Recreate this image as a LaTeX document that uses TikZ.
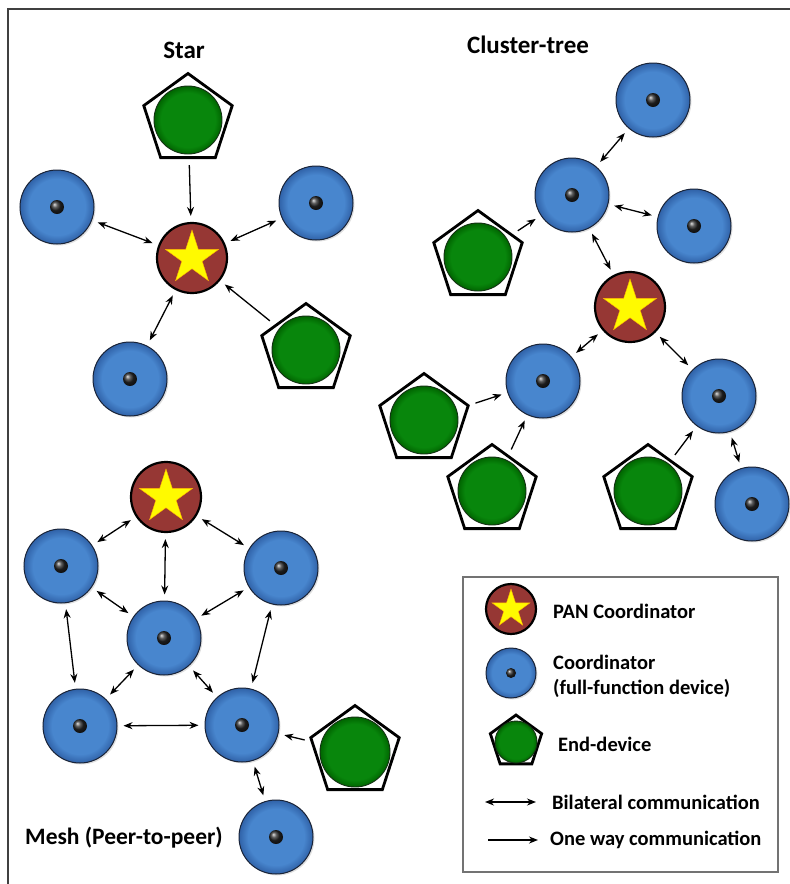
\documentclass[tikz,border=0pt]{standalone}
\usepackage{fontspec}
\setmainfont{Carlito}
\usetikzlibrary{shapes.geometric,arrows.meta,shadows}
\definecolor{cblue}{RGB}{72,134,206}
\definecolor{cbluerim}{RGB}{48,98,168}
\definecolor{cedge}{RGB}{25,35,55}
\definecolor{cgreen}{RGB}{8,134,12}
\definecolor{cgreenrim}{RGB}{0,100,0}
\definecolor{gedge}{RGB}{20,50,20}
\definecolor{cpan}{RGB}{150,55,52}
\definecolor{cstar}{RGB}{255,250,0}
\pgfdeclareradialshading{bluesh}{\pgfpoint{0bp}{0bp}}{color(0bp)=(cblue); color(19bp)=(cblue); color(25bp)=(cbluerim); color(50bp)=(cbluerim)}
\pgfdeclareradialshading{greensh}{\pgfpoint{0bp}{0bp}}{color(0bp)=(cgreen); color(20bp)=(cgreen); color(25bp)=(cgreenrim); color(50bp)=(cgreenrim)}
\tikzset{
  coord/.style={circle, inner sep=0pt, draw=cedge, line width=1pt, shading=bluesh,
    drop shadow={shadow xshift=1.5pt, shadow yshift=-1.5pt, opacity=0.25}},
  pan/.style={circle, inner sep=0pt, draw=black, line width=2.2pt, fill=cpan},
  panstar/.style={star, star points=5, star point ratio=2.618, inner sep=0pt, fill=cstar, draw=orange!60!yellow, line width=0.4pt},
  enddev/.style={regular polygon, regular polygon sides=5, inner sep=0pt, draw=black, line width=2.8pt, fill=white},
  bi/.style={{Stealth[length=9pt,width=7pt]}-{Stealth[length=9pt,width=7pt]}, line width=1.3pt, shorten <=6pt, shorten >=6pt},
  one/.style={-{Stealth[length=9pt,width=7pt]}, line width=1.3pt, shorten <=6pt, shorten >=6pt},
  title/.style={font=\fontsize{25}{29}\selectfont\bfseries, inner sep=0pt},
  legtext/.style={font=\fontsize{20.5}{24}\selectfont\bfseries, inner sep=0pt, anchor=west, align=left},
}
\newcommand\PANnode[4]{%
  \node[pan, minimum size=#3] (#1) at (#2) {};
  \node[panstar, minimum size=#4] (#1s) at (#1.center) {};}
\newcommand\COnode[4]{%
  \node[coord, minimum size=#3] (#1) at (#2) {};
  \shade[ball color=black!85] (#1.center) circle (#4);}
\newcommand\EDnode[4]{%
  \node[enddev, minimum size=#3] (#1) at (#2) {};
  \shadedraw[shading=greensh, draw=gedge, line width=0.9pt] (#1.center) circle (#4);}
\begin{document}
\begin{tikzpicture}[x=1pt,y=-1pt]
\useasboundingbox (0,0) rectangle (790,884);
% outer frame
\draw[line width=2pt, black!75] (8,884) -- (8,9) -- (790,9);

% ---------- Star ----------
\node[title] (tstar) at (184,50) {Star};
\EDnode{stop}{188,120}{93pt}{34pt}
\PANnode{span}{192,258}{70pt}{56pt}
\COnode{sl}{57,207}{74pt}{7pt}
\COnode{sr}{316,203}{74pt}{7pt}
\COnode{sbl}{130,379}{74pt}{7pt}
\EDnode{sbr}{306,350}{93pt}{34pt}
\draw[one] (stop) -- (span);
\draw[bi] (sl) -- (span);
\draw[bi] (sr) -- (span);
\draw[bi] (sbl) -- (span);
\draw[one] (sbr) -- (span);

% ---------- Cluster-tree ----------
\node[title] (tclu) at (528,45) {Cluster-tree};
\COnode{ctop}{653,100}{74pt}{7pt}
\COnode{cmid}{572,195}{74pt}{7pt}
\COnode{cr}{694,226}{74pt}{7pt}
\EDnode{cedl}{478,257}{93pt}{34pt}
\PANnode{cpan}{630,307}{70pt}{56pt}
\COnode{cll}{543,381}{74pt}{7pt}
\COnode{clr}{719,396}{74pt}{7pt}
\EDnode{ceda}{424,420}{93pt}{34pt}
\EDnode{cedb}{492,491}{93pt}{34pt}
\EDnode{cedc}{648,491}{93pt}{34pt}
\COnode{cbr}{752,504}{74pt}{7pt}
\draw[bi] (ctop) -- (cmid);
\draw[one] (cedl) -- (cmid);
\draw[bi] (cmid) -- (cr);
\draw[bi] (cmid) -- (cpan);
\draw[bi] (cpan) -- (cll);
\draw[bi] (cpan) -- (clr);
\draw[one] (ceda) -- (cll);
\draw[one] (cedb) -- (cll);
\draw[one] (cedc) -- (clr);
\draw[bi] (clr) -- (cbr);

% ---------- Mesh ----------
\PANnode{mpan}{166,497}{70pt}{56pt}
\COnode{mlt}{61,566}{74pt}{7pt}
\COnode{mrt}{281,568}{74pt}{7pt}
\COnode{mc}{164,638}{74pt}{7pt}
\COnode{mbl}{80,726}{74pt}{7pt}
\COnode{mbr}{242,725}{74pt}{7pt}
\COnode{mb}{276,837}{74pt}{7pt}
\EDnode{med}{355,752}{93pt}{35pt}
\node[font=\fontsize{23.5}{27}\selectfont\bfseries, inner sep=0pt] (tmesh) at (124,838) {Mesh (Peer-to-peer)};
\draw[bi] (mlt) -- (mpan);
\draw[bi] (mpan) -- (mrt);
\draw[bi] (mpan) -- (mc);
\draw[bi] (mlt) -- (mc);
\draw[bi] (mrt) -- (mc);
\draw[bi] (mlt) -- (mbl);
\draw[bi] (mrt) -- (mbr);
\draw[bi] (mc) -- (mbl);
\draw[bi] (mc) -- (mbr);
\draw[bi] (mbl) -- (mbr);
\draw[one] (med) -- (mbr);
\draw[bi] (mbr) -- (mb);

% ---------- Legend ----------
\draw[line width=1.3pt, black!55] (463,577) rectangle (778,872);
\PANnode{lpan}{511,609}{50pt}{40pt}
\node[legtext] (lt1) at (553,611) {PAN Coordinator};
\COnode{lco}{511,673}{50pt}{5pt}
\node[legtext] (lt2) at (553,662) {Coordinator};
\node[legtext] (lt3) at (553,688) {(full-function device)};
\EDnode{led}{516,742}{54pt}{21pt}
\node[legtext] (lt4) at (558,744) {End-device};
\coordinate (lba) at (485,802);
\coordinate (lbb) at (536,802);
\draw[bi, shorten <=0pt, shorten >=0pt] (lba) -- (lbb);
\node[legtext] (lt5) at (552,802) {Bilateral communication};
\coordinate (loa) at (488,840);
\coordinate (lob) at (538,840);
\draw[one, shorten <=0pt, shorten >=0pt] (loa) -- (lob);
\node[legtext] (lt6) at (550,840) {One way communication};
\end{tikzpicture}
\end{document}
